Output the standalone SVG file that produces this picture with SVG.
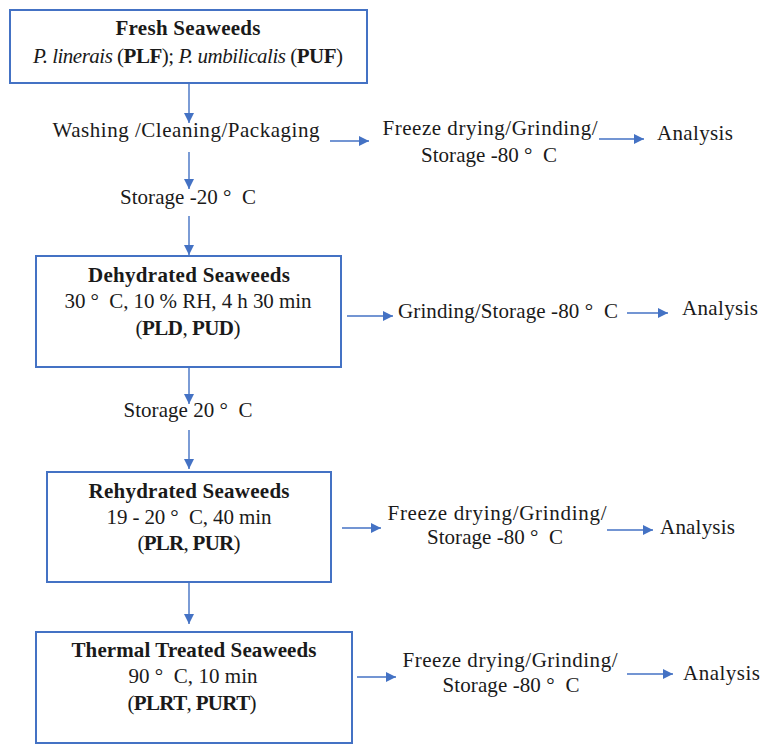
<svg xmlns="http://www.w3.org/2000/svg" width="769" height="754" viewBox="0 0 769 754">
<style>
text{font-family:"Liberation Serif","Times New Roman",serif;font-size:21px;fill:#1a1a1a}
.c{text-anchor:middle}
.b{font-weight:bold}
.i{font-style:italic}
.box{fill:#fff;stroke:#4472C4;stroke-width:2}
.ar{stroke:#4472C4;stroke-width:1.4;fill:none;marker-end:url(#ah)}
</style>
<defs>
<marker id="ah" viewBox="0 0 10 10" refX="10" refY="5" markerWidth="10" markerHeight="10" markerUnits="userSpaceOnUse" orient="auto">
<path d="M0,0 L10,5 L0,10 z" fill="#4472C4"/>
</marker>
</defs>
<rect width="769" height="754" fill="#fff"/>
<g id="connectors">
<line class="ar" x1="189" y1="83" x2="189" y2="123"/>
<line class="ar" x1="330" y1="141" x2="369" y2="141"/>
<line class="ar" x1="189" y1="152" x2="189" y2="189"/>
<line class="ar" x1="189" y1="216" x2="189" y2="255"/>
<line class="ar" x1="599" y1="139" x2="644" y2="139"/>
<line class="ar" x1="347" y1="316" x2="393" y2="316"/>
<line class="ar" x1="627" y1="313" x2="668" y2="313"/>
<line class="ar" x1="189" y1="367" x2="189" y2="404"/>
<line class="ar" x1="189" y1="430" x2="189" y2="469"/>
<line class="ar" x1="342" y1="528" x2="381" y2="528"/>
<line class="ar" x1="607" y1="530" x2="653" y2="530"/>
<line class="ar" x1="189" y1="582" x2="189" y2="624"/>
<line class="ar" x1="357" y1="677" x2="396" y2="677"/>
<line class="ar" x1="627" y1="674" x2="673" y2="674"/>
</g>
<g id="fresh">
<rect class="box" x="10" y="10" width="357" height="73"/>
<text class="c b" x="188" y="35" textLength="145" lengthAdjust="spacing">Fresh Seaweeds</text>
<text class="c" x="188" y="63" textLength="310" lengthAdjust="spacing"><tspan class="i">P. linerais</tspan> (<tspan class="b">PLF</tspan>); <tspan class="i">P. umbilicalis</tspan> (<tspan class="b">PUF</tspan>)</text>
</g>
<g id="washing">
<text class="c" x="186" y="137" textLength="267" lengthAdjust="spacing">Washing /Cleaning/Packaging</text>
</g>
<g id="storage20neg">
<text class="c" x="188" y="204" textLength="136" lengthAdjust="spacing">Storage -20 °&#160; C</text>
</g>
<g id="fd1">
<text class="c" x="490" y="135" textLength="215" lengthAdjust="spacing">Freeze drying/Grinding/</text>
<text class="c" x="489" y="162" textLength="136" lengthAdjust="spacing">Storage -80 °&#160; C</text>
</g>
<g id="an1"><text x="657" y="140" textLength="76" lengthAdjust="spacing">Analysis</text></g>
<g id="dehydrated">
<rect class="box" x="36" y="256" width="305" height="111"/>
<text class="c b" x="189" y="282" textLength="202" lengthAdjust="spacing">Dehydrated Seaweeds</text>
<text class="c" x="188" y="308" textLength="247" lengthAdjust="spacing">30 °&#160; C, 10 % RH, 4 h 30 min</text>
<text class="c" x="188" y="335" textLength="105" lengthAdjust="spacing">(<tspan class="b">PLD</tspan>, <tspan class="b">PUD</tspan>)</text>
</g>
<g id="grind2"><text class="c" x="508" y="318" textLength="220" lengthAdjust="spacing">Grinding/Storage -80 °&#160; C</text></g>
<g id="an2"><text x="682" y="315" textLength="76" lengthAdjust="spacing">Analysis</text></g>
<g id="storage20">
<text class="c" x="188" y="417" textLength="129" lengthAdjust="spacing">Storage 20 °&#160; C</text>
</g>
<g id="rehydrated">
<rect class="box" x="47" y="472" width="284" height="110"/>
<text class="c b" x="189" y="498" textLength="201" lengthAdjust="spacing">Rehydrated Seaweeds</text>
<text class="c" x="189" y="524" textLength="165" lengthAdjust="spacing">19 - 20 °&#160; C, 40 min</text>
<text class="c" x="189" y="550" textLength="103" lengthAdjust="spacing">(<tspan class="b">PLR</tspan>, <tspan class="b">PUR</tspan>)</text>
</g>
<g id="fd3">
<text class="c" x="497" y="520" textLength="219" lengthAdjust="spacing">Freeze drying/Grinding/</text>
<text class="c" x="495" y="544" textLength="136" lengthAdjust="spacing">Storage -80 °&#160; C</text>
</g>
<g id="an3"><text x="660" y="534" textLength="75" lengthAdjust="spacing">Analysis</text></g>
<g id="thermal">
<rect class="box" x="36" y="632" width="316" height="111"/>
<text class="c b" x="194" y="657" textLength="245" lengthAdjust="spacing">Thermal Treated Seaweeds</text>
<text class="c" x="193" y="683" textLength="129" lengthAdjust="spacing">90 °&#160; C, 10 min</text>
<text class="c" x="192" y="710" textLength="129" lengthAdjust="spacing">(<tspan class="b">PLRT</tspan>, <tspan class="b">PURT</tspan>)</text>
</g>
<g id="fd4">
<text class="c" x="510" y="667" textLength="215" lengthAdjust="spacing">Freeze drying/Grinding/</text>
<text class="c" x="511" y="692" textLength="137" lengthAdjust="spacing">Storage -80 °&#160; C</text>
</g>
<g id="an4"><text x="683" y="680" textLength="77" lengthAdjust="spacing">Analysis</text></g>
</svg>
